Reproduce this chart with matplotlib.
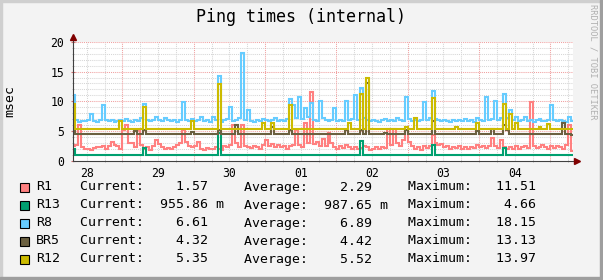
import numpy as np
import matplotlib
matplotlib.use('Agg')
import matplotlib.pyplot as plt
from matplotlib.patches import Rectangle

# hourly samples, first sample ~07:12 on the 28th
R1 = [2.5, 2.7, 6.0, 2.2, 1.9, 2.0, 1.8, 2.1, 2.3, 2.2, 2.5, 2.0,
      2.4, 3.2, 2.6, 2.4, 2.0, 5.2, 6.0, 3.0, 2.9, 2.2, 5.1, 2.7,
      2.0, 2.3, 1.8, 2.4, 3.5, 2.8, 2.2, 2.0, 2.1, 1.9, 2.3, 2.6,
      3.0, 5.2, 3.2, 2.5, 2.2, 2.4, 3.1, 2.0, 1.8, 2.1, 2.0, 1.9,
      2.2, 2.0, 1.8, 2.4, 2.2, 2.6, 6.0, 2.9, 2.3, 6.0, 2.5, 2.3,
      2.1, 2.4, 2.2, 2.0, 2.6, 3.5, 2.4, 2.8, 2.3, 2.6, 2.2, 2.5,
      2.0, 2.4, 2.7, 5.2, 2.6, 2.3, 6.4, 3.0, 11.51, 2.8, 3.2, 2.5,
      3.6, 2.4, 4.6, 2.9, 2.3, 2.0, 2.4, 2.1, 2.6, 2.2, 1.9, 2.3,
      2.0, 2.1, 2.4, 2.2, 1.8, 2.0, 2.2, 1.9, 2.3, 2.1, 5.4, 2.6,
      5.4, 3.0, 2.5, 3.4, 5.2, 3.1, 2.4, 2.0, 2.2, 1.8, 2.4, 2.1,
      2.5, 4.3, 3.0, 2.6, 2.8, 2.2, 2.5, 2.0, 2.3, 2.1, 2.4, 2.0,
      2.2, 1.9, 2.3, 2.1, 2.6, 2.2, 2.5, 2.1, 2.4, 3.8, 2.4, 2.1,
      3.5, 2.3, 2.0, 2.2, 1.9, 2.4, 2.0, 2.2, 2.5, 2.1, 9.8, 2.4,
      2.1, 2.3, 2.6, 2.2, 2.0, 2.4, 2.1, 2.5, 2.2, 2.0, 2.6, 6.0,
      1.57]

R13 = [1.9, 0.95, 0.95, 0.95, 0.95, 0.95, 0.95, 0.95, 0.95, 0.95, 0.95, 0.95,
       0.95, 0.95, 0.95, 0.95, 0.95, 0.95, 0.95, 0.95, 0.95, 0.95, 0.95, 0.95,
       2.1, 0.95, 0.95, 0.95, 0.95, 0.95, 0.95, 0.95, 0.95, 0.95, 0.95, 0.95,
       0.95, 0.95, 0.95, 0.95, 0.95, 0.95, 0.95, 0.95, 0.95, 0.95, 0.95, 0.95,
       0.95, 4.66, 0.95, 0.95, 0.95, 0.95, 0.95, 0.95, 0.95, 0.95, 0.95, 0.95,
       0.95, 0.95, 0.95, 0.95, 0.95, 0.95, 0.95, 0.95, 0.95, 0.95, 0.95, 0.95,
       0.95, 0.95, 0.95, 0.95, 0.95, 0.95, 0.95, 0.95, 0.95, 0.95, 0.95, 0.95,
       0.95, 0.95, 0.95, 0.95, 0.95, 0.95, 0.95, 0.95, 0.95, 0.95, 0.95, 0.95,
       0.95, 3.3, 0.95, 0.95, 0.95, 0.95, 0.95, 0.95, 0.95, 0.95, 0.95, 0.95,
       0.95, 0.95, 0.95, 0.95, 0.95, 0.95, 0.95, 0.95, 0.95, 0.95, 0.95, 0.95,
       0.95, 2.6, 0.95, 0.95, 0.95, 0.95, 0.95, 0.95, 0.95, 0.95, 0.95, 0.95,
       0.95, 0.95, 0.95, 0.95, 0.95, 0.95, 0.95, 0.95, 0.95, 0.95, 0.95, 0.95,
       0.95, 2.1, 0.95, 0.95, 0.95, 0.95, 0.95, 0.95, 0.95, 0.95, 0.95, 0.95,
       0.95, 0.95, 0.95, 0.95, 0.95, 0.95, 0.95, 0.95, 0.95, 0.95, 0.95, 0.95,
       0.956]

R8 = [11.1, 6.8, 6.5, 6.7, 6.6, 6.9, 7.8, 6.7, 6.5, 6.8, 9.3, 6.9,
      6.6, 6.8, 6.5, 6.7, 6.9, 6.6, 7.0, 6.7, 6.5, 6.8, 6.6, 7.1,
      9.6, 6.8, 6.6, 6.9, 7.3, 6.8, 6.7, 7.2, 6.9, 6.6, 6.8, 6.5,
      6.9, 9.9, 6.8, 6.6, 7.0, 6.7, 6.9, 7.3, 6.6, 6.8, 6.5, 7.4,
      6.9, 14.2, 6.5, 6.8, 7.0, 9.0, 6.7, 6.9, 7.2, 18.15, 6.8, 8.6,
      6.7, 6.5, 6.8, 6.6, 7.0, 6.8, 6.6, 6.9, 7.1, 6.7, 6.9, 6.6,
      7.0, 10.3, 9.4, 7.2, 10.8, 7.0, 8.9, 7.3, 9.7, 6.8, 6.6, 10.0,
      7.1, 6.8, 6.6, 6.9, 8.8, 6.7, 6.9, 6.6, 10.0, 6.8, 7.0, 11.1,
      6.9, 12.3, 7.1, 6.8, 6.6, 6.9, 6.7, 6.5, 6.8, 7.0, 6.6, 6.9,
      6.7, 7.2, 6.8, 6.6, 10.8, 7.0, 6.7, 6.9, 6.6, 6.8, 9.9, 6.9,
      7.1, 11.7, 7.0, 6.8, 6.6, 6.9, 6.7, 6.5, 6.8, 6.6, 6.9, 6.7,
      7.0, 6.6, 6.8, 6.5, 7.2, 6.8, 6.6, 10.7, 6.9, 7.0, 10.1, 6.8,
      7.1, 11.3, 7.2, 8.5, 6.9, 7.4, 6.7, 6.9, 7.4, 6.6, 6.8, 6.5,
      6.9, 7.0, 6.7, 6.6, 6.9, 9.4, 6.8, 6.6, 6.9, 6.7, 6.5, 7.3,
      6.61]

BR5 = [5.0, 4.4, 4.4, 4.4, 4.4, 4.4, 4.4, 4.4, 4.4, 4.4, 4.4, 4.4,
       4.4, 4.4, 4.4, 4.4, 4.4, 4.4, 4.4, 4.4, 4.4, 5.0, 4.4, 4.4,
       5.2, 4.4, 4.4, 4.4, 4.4, 4.4, 4.4, 4.4, 4.4, 4.4, 4.4, 4.4,
       4.4, 4.4, 4.4, 4.4, 4.8, 4.4, 4.4, 4.4, 4.4, 4.4, 4.4, 4.4,
       4.4, 5.2, 4.4, 4.4, 4.4, 4.4, 4.4, 6.0, 4.4, 4.4, 4.4, 4.4,
       4.4, 4.4, 4.4, 4.4, 4.4, 4.4, 4.4, 5.7, 4.4, 4.4, 4.4, 4.4,
       4.4, 5.2, 4.4, 4.4, 4.4, 4.4, 4.4, 4.4, 4.4, 4.4, 4.4, 4.4,
       4.4, 4.4, 4.4, 4.4, 4.4, 4.4, 4.4, 4.4, 5.2, 4.4, 4.4, 4.4,
       4.4, 5.2, 4.4, 13.13, 4.4, 4.4, 4.4, 4.4, 4.4, 4.6, 4.4, 4.4,
       4.4, 4.4, 4.4, 4.4, 5.2, 4.4, 4.4, 4.4, 4.4, 4.4, 4.4, 4.4,
       4.4, 6.6, 4.4, 4.4, 4.4, 4.4, 4.4, 4.4, 4.4, 4.4, 4.4, 4.4,
       4.4, 4.4, 4.4, 4.4, 4.9, 4.4, 4.4, 4.4, 4.4, 5.4, 4.4, 4.4,
       4.4, 6.0, 5.2, 4.4, 4.4, 4.4, 4.4, 4.4, 4.4, 4.4, 4.4, 4.4,
       4.4, 4.4, 4.4, 4.4, 4.4, 4.4, 4.4, 4.4, 4.4, 6.3, 4.4, 4.4,
       4.32]

R12 = [9.6, 5.4, 5.4, 5.4, 5.4, 5.4, 5.4, 5.4, 5.4, 5.4, 5.4, 5.4,
       5.4, 5.4, 5.4, 5.4, 6.6, 5.4, 5.4, 5.4, 5.4, 5.4, 5.4, 5.4,
       9.1, 5.4, 5.4, 5.4, 5.4, 5.4, 5.4, 5.4, 5.4, 5.4, 5.4, 5.4,
       5.4, 5.4, 5.4, 5.4, 6.6, 5.4, 5.4, 5.4, 5.4, 5.4, 5.4, 5.4,
       5.4, 12.9, 5.4, 5.4, 5.4, 5.4, 5.4, 5.4, 5.4, 5.4, 5.4, 5.4,
       5.4, 5.4, 5.4, 5.4, 6.4, 5.4, 5.4, 6.3, 5.4, 5.4, 5.4, 5.4,
       5.4, 9.3, 5.4, 5.4, 5.4, 5.4, 5.4, 5.4, 5.4, 5.4, 5.4, 5.4,
       5.4, 5.4, 5.4, 5.4, 5.4, 5.4, 5.4, 5.4, 5.4, 6.4, 5.4, 5.4,
       5.4, 11.2, 5.4, 13.97, 5.4, 5.4, 5.4, 5.4, 5.4, 5.4, 5.4, 5.4,
       5.4, 5.4, 5.4, 5.4, 5.7, 5.4, 5.4, 7.1, 5.4, 5.4, 5.4, 5.4,
       5.4, 10.6, 5.4, 5.4, 5.4, 5.4, 5.4, 5.4, 5.4, 5.6, 5.4, 5.4,
       5.4, 5.4, 5.4, 5.4, 6.4, 5.4, 5.4, 5.4, 5.4, 5.4, 5.4, 5.4,
       5.4, 9.5, 5.4, 7.9, 5.4, 6.3, 5.4, 5.4, 5.4, 5.4, 5.4, 5.4,
       5.4, 5.7, 5.4, 5.4, 6.2, 5.4, 5.4, 5.4, 5.4, 5.4, 5.4, 5.4,
       5.35]

NAMES = ['R1', 'R13', 'R8', 'BR5', 'R12']
COLORS = ['#ff8080', '#00a070', '#66ccff', '#6b6040', '#ccbb00']
CUR = [1.57, 955.86, 6.61, 4.32, 5.35]
CUR_UNIT = [' ', 'm', ' ', ' ', ' ']
AVG = [2.29, 987.65, 6.89, 4.42, 5.52]
AVG_UNIT = [' ', 'm', ' ', ' ', ' ']
MAXV = [11.51, 4.66, 18.15, 13.13, 13.97]
DAY_LABELS = ['28', '29', '30', '01', '02', '03', '04']
FIRST_MIDNIGHT = 16.5  # hours after first sample

SERIES = [R1, R13, R8, BR5, R12]
for s in SERIES:
    assert len(s) == 169, len(s)

W, H = 603, 280
MONO = 'DejaVu Sans Mono'


def fx(px):
    return px / W


def fy(py):
    return 1 - py / H


fig = plt.figure(figsize=(W / 100, H / 100), dpi=100, facecolor='#f3f3f3')
left, right, top, bottom = 72.5, 573, 42, 160.5
ax = fig.add_axes([fx(left), fy(bottom), fx(right - left), (bottom - top) / H])
ax.set_facecolor('white')
for sp in ax.spines.values():
    sp.set_visible(False)

hours = np.arange(len(R1))
ax.set_xlim(-0.3, 168.1)
ax.set_ylim(0, 20)

# grid
dot = (0, (1, 1))
for v in range(1, 21):
    major = v % 5 == 0
    ax.axhline(v, color='#f0a0a0' if major else '#d6d6d6', ls=dot, lw=0.75, zorder=0)
six_h = np.arange(FIRST_MIDNIGHT - 12, 168.1, 6)
for t in six_h:
    major = abs((t - FIRST_MIDNIGHT) % 24) < 1e-6
    ax.axvline(t, color='#f0a0a0' if major else '#d6d6d6', ls=dot, lw=0.75, zorder=0)

# data lines, drawn in legend order
for s, c in zip(SERIES, COLORS):
    ax.plot(hours, s, color=c, lw=1.5, drawstyle='steps-mid', zorder=2,
            solid_joinstyle='miter')

# axes with arrows
ax.plot([0, 0], [0, 1 + 5 / (bottom - top)], transform=ax.transAxes,
        color='#404040', lw=0.8, clip_on=False, zorder=3)
ax.plot([0, 1 + 3 / (right - left)], [0, 0], transform=ax.transAxes,
        color='#404040', lw=0.8, clip_on=False, zorder=3)
ax.plot(0, 1 + 5 / (bottom - top), marker='^', ms=4.5, color='#800000',
        transform=ax.transAxes, clip_on=False, zorder=4)
ax.plot(1 + 4 / (right - left), 0, marker='>', ms=4.5, color='#800000',
        transform=ax.transAxes, clip_on=False, zorder=4)

# ticks
ax.set_yticks([0, 5, 10, 15, 20])
ax.set_yticks(range(0, 21), minor=True)
ax.tick_params(axis='y', which='major', direction='inout', length=3, color='#d07070',
               pad=4.6, labelsize=8.3)
ax.tick_params(axis='y', which='minor', direction='inout', length=2, color='#b0b0b0')
noons = FIRST_MIDNIGHT - 12 + 24 * np.arange(len(DAY_LABELS))
ax.set_xticks(noons, DAY_LABELS)
ax.set_xticks(six_h, minor=True)
ax.tick_params(axis='x', which='major', length=0, pad=4.5, labelsize=8.3)
ax.tick_params(axis='x', which='minor', direction='inout', length=2, color='#b0b0b0')
for lab in ax.get_xticklabels() + ax.get_yticklabels():
    lab.set_family(MONO)

# title and labels
fig.text(fx(301.5), fy(16.5), 'Ping times (internal)', family=MONO, fontsize=12,
         ha='center', va='center')
fig.text(fx(10), fy(101), 'msec', family=MONO, fontsize=9.5, rotation=90,
         ha='center', va='center')
fig.text(fx(592.5), fy(4), 'RRDTOOL / TOBI OETIKER', family=MONO, fontsize=6.3,
         rotation=270, ha='center', va='top', color='#b0b0b0')

# legend
for i, name in enumerate(NAMES):
    y = 187 + 18 * i
    fig.patches.append(Rectangle((fx(19.5), fy(y + 4.5)), 9 / W, 9 / H,
                                 transform=fig.transFigure, facecolor=COLORS[i],
                                 edgecolor='black', lw=0.8))
    fig.text(fx(36), fy(y), name, family=MONO, fontsize=9.5, va='center')
    fig.text(fx(80), fy(y), 'Current:%8.2f %s' % (CUR[i], CUR_UNIT[i]),
             family=MONO, fontsize=9.5, va='center')
    fig.text(fx(244), fy(y), 'Average:%8.2f %s' % (AVG[i], AVG_UNIT[i]),
             family=MONO, fontsize=9.5, va='center')
    fig.text(fx(408), fy(y), 'Maximum:%8.2f' % MAXV[i],
             family=MONO, fontsize=9.5, va='center')

# image frame
fig.patches.append(Rectangle((0, 0), fx(2), 1, transform=fig.transFigure, color='#cfcfcf'))
fig.patches.append(Rectangle((0, fy(2)), 1, 2 / H, transform=fig.transFigure, color='#cfcfcf'))
fig.patches.append(Rectangle((fx(W - 3), 0), 3 / W, 1, transform=fig.transFigure, color='#9e9e9e'))
fig.patches.append(Rectangle((0, 0), 1, 3 / H, transform=fig.transFigure, color='#9e9e9e'))

fig.savefig('out.png', dpi=100, facecolor=fig.get_facecolor())
